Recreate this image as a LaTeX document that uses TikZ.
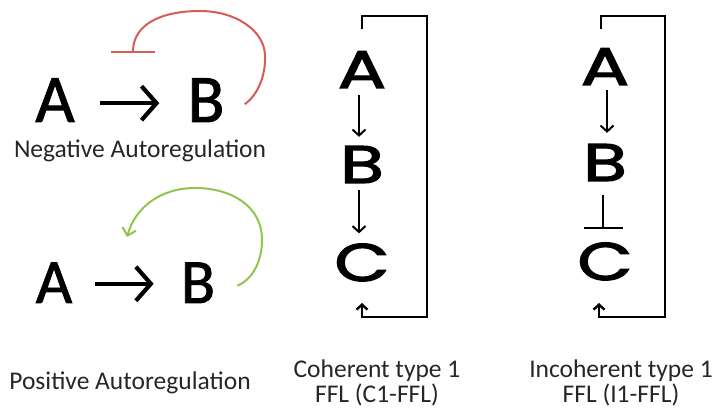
\documentclass[tikz,border=0pt]{standalone}
\usepackage{fontspec}
\setmainfont{Carlito}
\newfontfamily\letterfont{Carlito}[FakeBold=1.3]
\newfontfamily\geofont{Poppins}[FakeBold=2.2]
\usetikzlibrary{arrows.meta}
\definecolor{negred}{RGB}{214,92,88}
\definecolor{posgreen}{RGB}{146,196,80}
\begin{document}
\begin{tikzpicture}[x=1pt,y=-1pt,
  bigletter/.style={inner sep=0pt,anchor=base,font=\letterfont\fontsize{68}{68}\selectfont},
  smallbig/.style={inner sep=0pt,anchor=base,font=\letterfont\fontsize{63}{63}\selectfont},
  geoletter/.style={inner sep=0pt,anchor=base,xscale=1.35,font=\geofont\fontsize{53}{53}\selectfont},
  caption/.style={inner sep=0pt,anchor=base,text=black!85,font=\fontsize{25.5}{25.5}\selectfont},
  fatarrow/.style={line width=4.2pt,-{Straight Barb[length=15pt,width=34pt]}},
  thinarrow/.style={line width=2pt,-{Straight Barb[length=6pt,width=13pt]}},
  teearrow/.style={line width=2pt,-{Bar[width=39pt]}},
  bracketline/.style={line width=2.4pt,-{Straight Barb[length=5pt,width=11pt]}},
  regline/.style={line width=2pt},
]
\useasboundingbox (0,0) rectangle (717,411);

% negative autoregulation
\node[bigletter] (nA) at (55,122) {A};
\node[bigletter] (nB) at (206,122) {B};
\draw[fatarrow,shorten <=25pt,shorten >=28pt] ([yshift=-3pt]nA.east) -- ([yshift=-3pt]nB.west);
\coordinate (nTee) at (133,53);
\draw[regline,negred,-{Bar[width=44pt]}] ([xshift=20pt,yshift=-4pt]nB.east)
  .. controls (258,95) and (266,75) .. (265,55)
  .. controls (264,30) and (235,11) .. (200,11)
  .. controls (160,11) and (133,25) .. (nTee);
\node[caption] (nLab) at (140,158) {Negative Autoregulation};

% positive autoregulation
\node[smallbig] (pA) at (54,303) {A};
\node[smallbig] (pB) at (198,303) {B};
\draw[fatarrow,shorten <=23pt,shorten >=27pt] ([yshift=-1pt]pA.east) -- ([yshift=-1pt]pB.west);
\coordinate (pTip) at (127,237);
\draw[regline,posgreen,-{Straight Barb[length=7pt,width=14pt]}] ([xshift=22pt,yshift=-3pt]pB.east)
  .. controls (255,278) and (262,258) .. (262,240)
  .. controls (262,205) and (230,188) .. (195,188)
  .. controls (160,188) and (135,208) .. (pTip);
\node[caption] (pLab) at (130,389) {Positive Autoregulation};

% coherent type 1 FFL
\node[geoletter] (cA) at (362,88) {A};
\node[geoletter] (cB) at (362,183) {B};
\node[geoletter] (cC) at (362,281) {C};
\draw[thinarrow,shorten <=7pt,shorten >=9pt] ([xshift=-3pt]cA.south) -- ([xshift=-3pt]cB.north);
\draw[thinarrow,shorten <=7pt,shorten >=10pt] ([xshift=-3pt]cB.south) -- ([xshift=-3pt]cC.north);
\coordinate (cStart) at (362,29);
\coordinate (cEnd) at (362,303);
\draw[bracketline] (cStart) |- (427,16) -- (427,317) -| (cEnd);
\node[caption] (cLab1) at (377,377) {Coherent type 1};
\node[caption] (cLab2) at (377,402) {FFL (C1-FFL)};

% incoherent type 1 FFL
\node[geoletter] (iA) at (605,85) {A};
\node[geoletter] (iB) at (605,181) {B};
\node[geoletter] (iC) at (605,280) {C};
\draw[thinarrow,shorten <=5pt,shorten >=11pt] ([xshift=2pt]iA.south) -- ([xshift=2pt]iB.north);
\draw[teearrow,shorten <=14pt,shorten >=13pt] ([xshift=-2pt]iB.south) -- ([xshift=-2pt]iC.north);
\coordinate (iStart) at (601,29);
\coordinate (iEnd) at (599,303);
\draw[bracketline] (iStart) |- (665,16) -- (665,317) -| (iEnd);
\node[caption] (iLab1) at (621,377) {Incoherent type 1};
\node[caption] (iLab2) at (621,402) {FFL (I1-FFL)};
\end{tikzpicture}
\end{document}
